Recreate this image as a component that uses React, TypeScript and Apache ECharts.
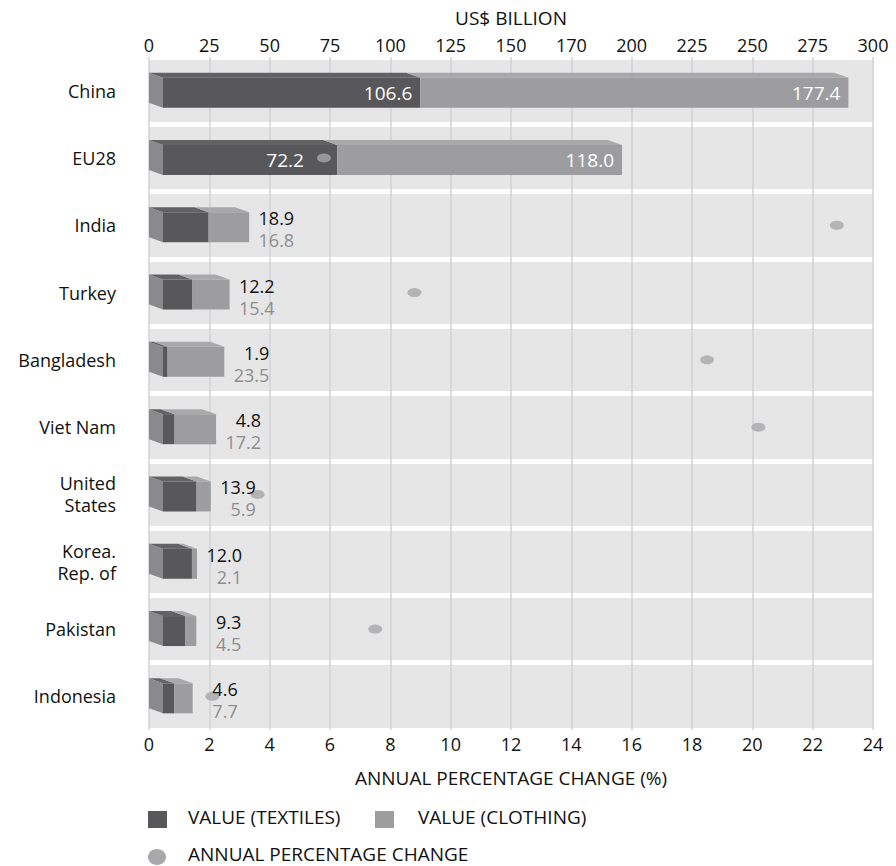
import React, { useEffect, useRef } from "react";
import * as echarts from "echarts";

const categories = [
  "China",
  "EU28",
  "India",
  "Turkey",
  "Bangladesh",
  "Viet Nam",
  "United\nStates",
  "Korea.\nRep. of",
  "Pakistan",
  "Indonesia",
];
const textiles = [106.6, 72.2, 18.9, 12.2, 1.9, 4.8, 13.9, 12.0, 9.3, 4.6];
const clothing = [177.4, 118.0, 16.8, 15.4, 23.5, 17.2, 5.9, 2.1, 4.5, 7.7];
const pctChange: (number | null)[] = [null, 5.8, 22.8, 8.8, 18.5, 20.2, 3.6, null, 7.5, 2.1];
const topTickLabels = ["0", "25", "50", "75", "100", "125", "150", "170", "200", "225", "250", "275", "300"];

const FONT = "'Open Sans', 'Noto Sans', sans-serif";
const C_TEX = "#58585b";
const C_TEX_TOP = "#626265";
const C_CLO = "#9d9d9f";
const C_CLO_TOP = "#a9a9ab";
const C_SIDE = "#8a8a8c";
const C_DOT = "#a8a8aa";
const TOP_MAX = 300;
const BOTTOM_MAX = 24;

export default function App() {
  const ref = useRef<HTMLDivElement>(null);
  useEffect(() => {
    if (!ref.current) return;
    const chart = echarts.init(ref.current, undefined, { renderer: "svg" });
    const D = 14;
    const DY = 5;
    const barData = categories.map((_, i) => [i, textiles[i], clothing[i]]);
    const dotData = pctChange
      .map((v, i) => (v == null ? null : [v, i]))
      .filter((d) => d !== null);

    const geom = (api: any) => {
      const i = api.value(0);
      const t = api.value(1);
      const c = api.value(2);
      const p0 = api.coord([0, i]);
      const pt = api.coord([t, i]);
      const pc = api.coord([t + c, i]);
      const yc = p0[1];
      return { i, t, c, x0: p0[0] + D, xt: pt[0] + D, xc: pc[0] + D, yc, top: yc - 13, bot: yc + 17 };
    };

    const option: any = {
      animation: false,
      backgroundColor: "#ffffff",
      grid: {
        left: 149,
        right: 23,
        top: 57,
        bottom: 136,
        show: true,
        backgroundColor: "#e6e6e7",
        borderWidth: 0,
      },
      xAxis: [
        {
          type: "value",
          position: "top",
          min: 0,
          max: TOP_MAX,
          interval: 25,
          name: "US$ BILLION",
          nameLocation: "middle",
          nameGap: 30,
          nameTextStyle: { fontFamily: FONT, fontSize: 19, color: "#111" },
          axisLine: { show: false },
          axisTick: { show: false },
          axisLabel: {
            margin: 3,
            fontFamily: FONT,
            fontSize: 18,
            color: "#111",
            formatter: (_v: number, idx: number) => topTickLabels[idx],
          },
          splitLine: { show: true, lineStyle: { color: "#d2d2d4", width: 1.5 } },
        },
        {
          type: "value",
          position: "bottom",
          min: 0,
          max: BOTTOM_MAX,
          interval: 2,
          name: "ANNUAL PERCENTAGE CHANGE (%)",
          nameLocation: "middle",
          nameGap: 38,
          nameTextStyle: { fontFamily: FONT, fontSize: 19, color: "#111" },
          axisLine: { show: false },
          axisTick: { show: false },
          axisLabel: { margin: 5, fontFamily: FONT, fontSize: 18, color: "#111" },
          splitLine: { show: false },
        },
      ],
      yAxis: {
        type: "category",
        inverse: true,
        data: categories,
        axisLine: { show: false },
        axisTick: { show: false },
        axisLabel: { margin: 33, fontFamily: FONT, fontSize: 18, color: "#111", lineHeight: 22 },
        splitLine: { show: true, lineStyle: { color: "#ffffff", width: 5 } },
      },
      series: [
        {
          type: "custom",
          name: "bars",
          xAxisIndex: 0,
          yAxisIndex: 0,
          z: 2,
          encode: { x: [1, 2], y: 0 },
          data: barData,
          renderItem: (_p: any, api: any) => {
            const g = geom(api);
            const { x0, xt, xc, top, bot } = g;
            return {
              type: "group",
              children: [
                {
                  type: "polygon",
                  shape: { points: [[x0 - D, top - DY], [x0, top], [x0, bot], [x0 - D, bot - DY]] },
                  style: { fill: C_SIDE },
                },
                {
                  type: "polygon",
                  shape: { points: [[x0 - D, top - DY], [xt - D, top - DY], [xt, top], [x0, top]] },
                  style: { fill: C_TEX_TOP },
                },
                {
                  type: "polygon",
                  shape: { points: [[xt - D, top - DY], [xc - D, top - DY], [xc, top], [xt, top]] },
                  style: { fill: C_CLO_TOP },
                },
                { type: "rect", shape: { x: x0, y: top, width: xt - x0, height: bot - top }, style: { fill: C_TEX } },
                { type: "rect", shape: { x: xt, y: top, width: xc - xt, height: bot - top }, style: { fill: C_CLO } },
              ],
            };
          },
        },
        {
          type: "scatter",
          name: "ANNUAL PERCENTAGE CHANGE",
          xAxisIndex: 1,
          yAxisIndex: 0,
          z: 3,
          symbol: "circle",
          symbolSize: [14, 9],
          itemStyle: { color: C_DOT },
          data: dotData,
        },
        {
          type: "custom",
          name: "labels",
          xAxisIndex: 0,
          yAxisIndex: 0,
          z: 4,
          encode: { x: [1, 2], y: 0 },
          data: barData,
          renderItem: (_p: any, api: any) => {
            const g = geom(api);
            const { i, t, c, xt, xc, yc } = g;
            const big = t + c > 100;
            const base = { fontFamily: FONT, fontSize: 19, verticalAlign: "middle", align: "right" };
            if (big) {
              // keep the textile label clear of the percentage dot if it sits inside the bar
              let tRight = xt - 8;
              const p = pctChange[i];
              if (p != null) {
                const dotX = api.coord([(p * TOP_MAX) / BOTTOM_MAX, i])[0];
                if (dotX < xt && dotX > xt - 70) tRight = dotX - 20;
              }
              return {
                type: "group",
                children: [
                  { type: "text", x: tRight, y: yc + 2, style: { ...base, text: t.toFixed(1), fill: "#ffffff" } },
                  { type: "text", x: xc - 8, y: yc + 2, style: { ...base, text: c.toFixed(1), fill: "#ffffff" } },
                ],
              };
            }
            return {
              type: "text",
              x: xc + 45,
              y: yc + 4,
              style: {
                ...base,
                fontSize: 18,
                text: `{a|${t.toFixed(1)}}\n{b|${c.toFixed(1)}}`,
                rich: {
                  a: { fontFamily: FONT, fontSize: 18, lineHeight: 22, fill: "#111111", align: "right" },
                  b: { fontFamily: FONT, fontSize: 18, lineHeight: 22, fill: "#8e8e90", align: "right" },
                },
              },
            };
          },
        },
      ],
      graphic: [
        { type: "rect", left: 148, top: 811, shape: { width: 19, height: 17 }, style: { fill: C_TEX } },
        {
          type: "text",
          left: 188,
          top: 807,
          style: { text: "VALUE (TEXTILES)", fontFamily: FONT, fontSize: 19, fill: "#111" },
        },
        { type: "rect", left: 375, top: 811, shape: { width: 19, height: 17 }, style: { fill: C_CLO } },
        {
          type: "text",
          left: 418,
          top: 807,
          style: { text: "VALUE (CLOTHING)", fontFamily: FONT, fontSize: 19, fill: "#111" },
        },
        { type: "ellipse", left: 148, top: 849, shape: { rx: 9, ry: 8 }, style: { fill: C_DOT } },
        {
          type: "text",
          left: 188,
          top: 844,
          style: { text: "ANNUAL PERCENTAGE CHANGE", fontFamily: FONT, fontSize: 19, fill: "#111" },
        },
      ],
    };
    chart.setOption(option);
    return () => chart.dispose();
  }, []);
  return <div ref={ref} style={{ position: "fixed", left: 0, top: 0, width: 896, height: 866 }} />;
}
